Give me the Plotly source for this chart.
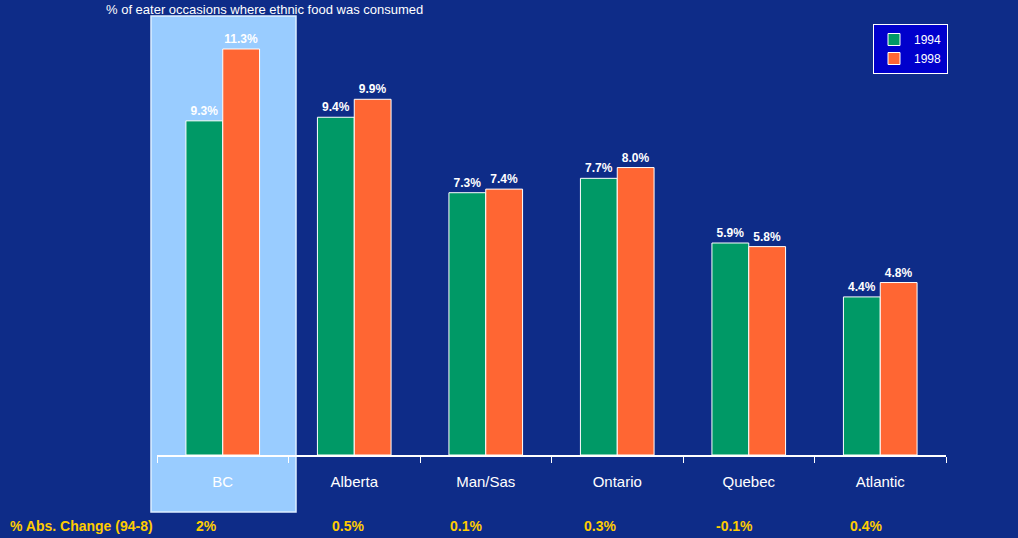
import plotly.graph_objects as go

regions = ["BC", "Alberta", "Man/Sas", "Ontario", "Quebec", "Atlantic"]
v1994 = [9.3, 9.4, 7.3, 7.7, 5.9, 4.4]
v1998 = [11.3, 9.9, 7.4, 8.0, 5.8, 4.8]
abs_change = ["2%", "0.5%", "0.1%", "0.3%", "-0.1%", "0.4%"]
title_text = "% of eater occasions where ethnic food was consumed"

W, H = 1018, 538
L, R, T, B = 157, 72, 0, 83
pw = W - L - R
ph = H - T - B

fig = go.Figure()
fig.add_bar(x=regions, y=v1994, name="1994", marker=dict(color="#009966", line=dict(color="white", width=1)),
            text=[f"<b>{v:.1f}%</b>" for v in v1994], textposition="outside", cliponaxis=False,
            textfont=dict(color="white", size=12, family="Arial"))
fig.add_bar(x=regions, y=v1998, name="1998", marker=dict(color="#FF6633", line=dict(color="white", width=1)),
            text=[f"<b>{v:.1f}%</b>" for v in v1998], textposition="outside", cliponaxis=False,
            textfont=dict(color="white", size=12, family="Arial"))

def px_x(p):
    return (p - L) / pw
def px_y(p):
    return (H - B - p) / ph

# BC highlight box
fig.add_shape(type="rect", xref="paper", yref="paper", layer="below",
              x0=px_x(151), x1=px_x(296), y0=px_y(512), y1=px_y(16),
              fillcolor="#99CCFF", line=dict(color="#DDEEFF", width=1.5))

# title at top
fig.add_annotation(text=title_text, xref="paper", yref="paper", x=px_x(104), y=px_y(0),
                   xanchor="left", yanchor="top", showarrow=False,
                   font=dict(color="white", size=13, family="Arial"))

# bottom change row
fig.add_annotation(text="<b>% Abs. Change (94-8)</b>", xref="paper", yref="paper", x=px_x(8), y=px_y(526),
                   xanchor="left", yanchor="middle", showarrow=False,
                   font=dict(color="#FFCC00", size=14, family="Arial"))
offsets = [-0.12, -0.05, -0.15, -0.13, -0.11, -0.11]
for i, c in enumerate(abs_change):
    fig.add_annotation(text=f"<b>{c}</b>", xref="x", yref="paper", x=i + offsets[i], y=px_y(526),
                       xanchor="center", yanchor="middle", showarrow=False,
                       font=dict(color="#FFCC00", size=14, family="Arial"))

fig.update_layout(
    width=W, height=H,
    margin=dict(l=L, r=R, t=T, b=B),
    paper_bgcolor="#0E2C88", plot_bgcolor="rgba(0,0,0,0)",
    barmode="group", bargap=0.44, bargroupgap=0,
    showlegend=True,
    legend=dict(x=px_x(873), y=px_y(24), xanchor="left", yanchor="top",
                bgcolor="#0000CC", bordercolor="white", borderwidth=1,
                font=dict(color="white", size=12, family="Arial"),
                itemwidth=30, tracegroupgap=0),
    xaxis=dict(showline=True, linecolor="white", linewidth=1.5, ticks="outside", tickson="boundaries",
               ticklen=6, tickcolor="white", tickfont=dict(color="white", size=15, family="Arial"),
               showgrid=False, range=[-0.5, 5.5], fixedrange=True, ticklabelstandoff=12),
    yaxis=dict(visible=False, range=[0, ph / 35.93], showgrid=False, zeroline=False),
    font=dict(family="Arial"),
)
fig.update_traces(constraintext="none")

fig.write_html("out.html")
